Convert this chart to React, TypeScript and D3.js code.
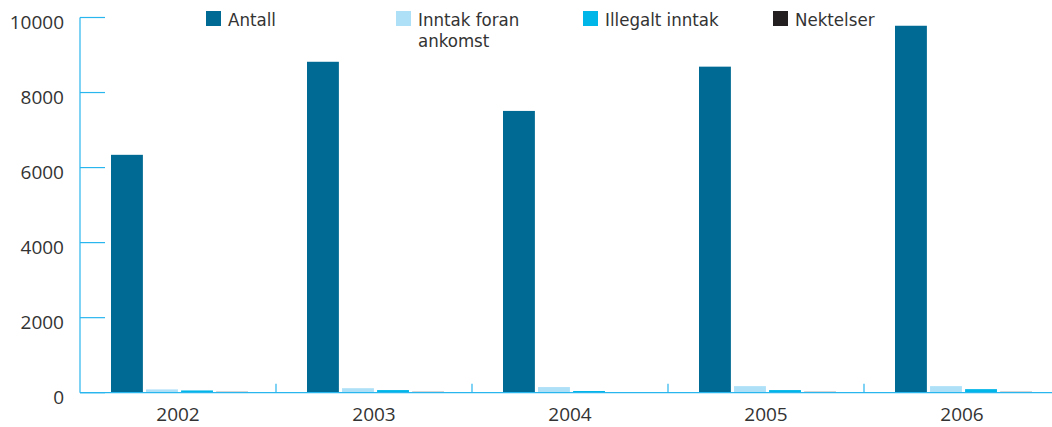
import React from 'react';
import * as d3 from 'd3';

const years = ['2002', '2003', '2004', '2005', '2006'];
const seriesNames = ['Antall', 'Inntak foran ankomst', 'Illegalt inntak', 'Nektelser'];
const antall = [6340, 8820, 7510, 8690, 9780];
const inntakForan = [88, 120, 150, 175, 175];
const illegalt = [60, 70, 45, 70, 95];
const nektelser = [25, 25, 5, 25, 25];
const yTicks = [0, 2000, 4000, 6000, 8000, 10000];

const seriesValues = [antall, inntakForan, illegalt, nektelser];
const colors = ['#006a94', '#aee0f8', '#00b5e8', '#231f20'];

const W = 1052;
const H = 427;
const axisColor = '#29b6ef';
const font = '"Open Sans", "DejaVu Sans", sans-serif';
const legendFont = '"DejaVu Sans Condensed", "Liberation Sans Narrow", "Roboto", sans-serif';

export default function App() {
  const x = d3.scaleBand<string>().domain(years).range([80, 1060]);
  const inner = d3.scaleBand<number>()
    .domain(d3.range(seriesNames.length))
    .range([31, 168])
    .paddingInner(0.09);
  const y = d3.scaleLinear().domain([0, 10000]).range([392.7, 17.5]);

  const legendX = [206, 396, 583, 773];

  return (
    <div style={{ position: 'absolute', left: 0, top: 0 }}>
      <svg width={W} height={H} style={{ display: 'block', background: '#fff' }}>
        {/* bars */}
        {years.map((yr, i) => (
          <g key={yr} transform={`translate(${x(yr)},0)`}>
            {seriesValues.map((vals, s) => (
              <rect
                key={s}
                x={inner(s)}
                y={y(vals[i])}
                width={inner.bandwidth()}
                height={y(0) - y(vals[i])}
                fill={s === 3 ? '#5a5050' : colors[s]}
              />
            ))}
          </g>
        ))}

        {/* y axis */}
        <line x1={80} x2={80} y1={y(10000)} y2={y(0)} stroke={axisColor} strokeWidth={1.2} />
        {yTicks.map(t => (
          <g key={t}>
            <line x1={80} x2={105} y1={y(t)} y2={y(t)} stroke={axisColor} strokeWidth={1.2} />
            <text
              x={64}
              y={y(t) + 5}
              dy="0.35em"
              textAnchor="end"
              fontFamily={font}
              fontSize={19}
              fill="#333"
            >
              {t}
            </text>
          </g>
        ))}

        {/* x axis */}
        <line x1={80} x2={W} y1={y(0)} y2={y(0)} stroke={axisColor} strokeWidth={1.2} />
        {years.slice(1).map(yr => (
          <line key={yr} x1={x(yr)} x2={x(yr)} y1={y(0)} y2={y(0) - 9} stroke={axisColor} strokeWidth={1.2} />
        ))}
        {years.map(yr => (
          <text
            key={yr}
            x={(x(yr) as number) + x.bandwidth() / 2}
            y={421}
            textAnchor="middle"
            fontFamily={font}
            fontSize={19}
            fill="#333"
          >
            {yr}
          </text>
        ))}

        {/* legend */}
        {seriesNames.map((name, s) => {
          const lines = s === 1 ? ['Inntak foran', 'ankomst'] : [name];
          return (
            <g key={name} transform={`translate(${legendX[s]},11)`}>
              <rect width={15} height={15} fill={colors[s]} />
              {lines.map((ln, k) => (
                <text
                  key={ln}
                  x={22}
                  y={15 + k * 21}
                  fontFamily={legendFont}
                  fontSize={18.5}
                  fill="#333"
                >
                  {ln}
                </text>
              ))}
            </g>
          );
        })}
      </svg>
    </div>
  );
}
